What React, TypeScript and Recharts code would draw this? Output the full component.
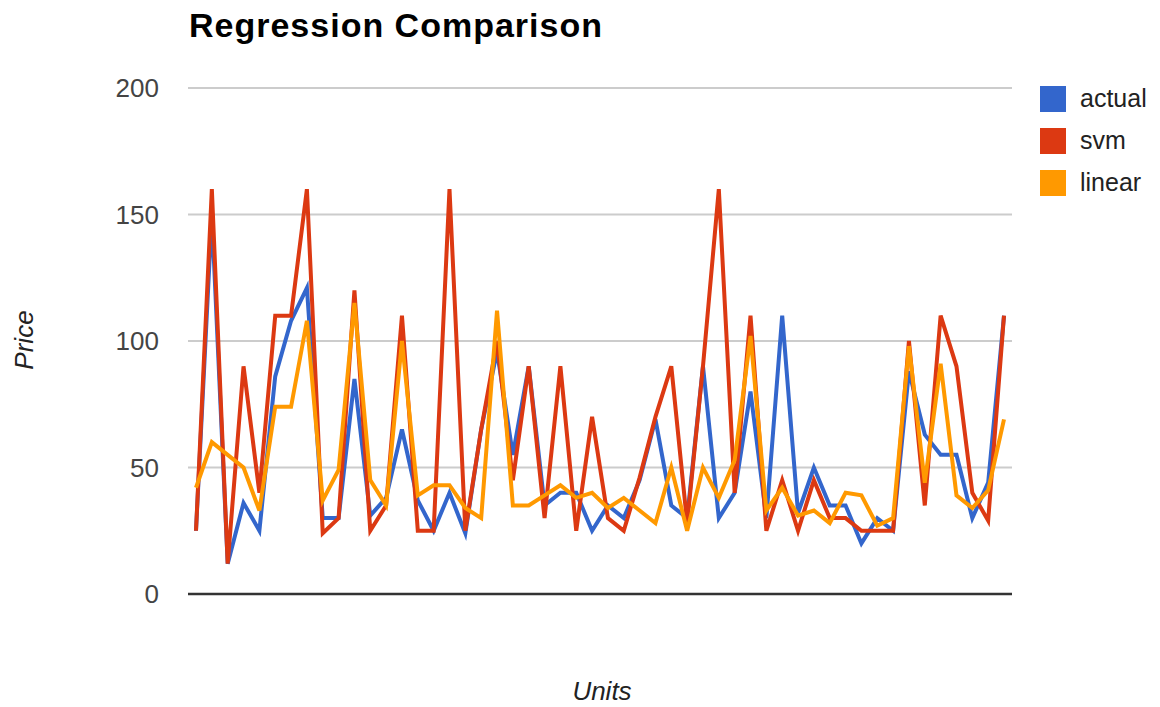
import React from 'react';
import { LineChart, Line, XAxis, YAxis, CartesianGrid, ReferenceLine } from 'recharts';

// one entry per unit, 52 in all
const units = Array.from({ length: 52 }, (_, i) => i + 1);

const actual = [
  25, 150, 12, 36, 25, 86, 108, 121, 30, 30, 85, 31, 38, 65, 37, 25, 40, 24, 65, 96,
  55, 90, 35, 40, 40, 25, 35, 30, 45, 69, 35, 30, 90, 30, 40, 80, 30, 110, 32, 50,
  35, 35, 20, 30, 25, 88, 63, 55, 55, 30, 44, 110,
];
const svm = [
  25, 160, 12, 90, 40, 110, 110, 160, 24, 30, 120, 25, 35, 110, 25, 25, 160, 25, 65, 100,
  45, 90, 30, 90, 25, 70, 30, 25, 46, 70, 90, 28, 90, 160, 40, 110, 25, 45, 25, 45,
  30, 30, 25, 25, 25, 100, 35, 110, 90, 40, 29, 110,
];
const linear = [
  42, 60, 55, 50, 33, 74, 74, 108, 37, 49, 115, 45, 35, 100, 39, 43, 43, 34, 30, 112,
  35, 35, 39, 43, 38, 40, 34, 38, 33, 28, 50, 25, 50, 38, 53, 102, 33, 42, 31, 33,
  28, 40, 39, 27, 30, 98, 44, 91, 39, 34, 41, 69,
];

const yTicks = [0, 50, 100, 150, 200];

const series = [
  { key: 'actual', color: '#3366cc' },
  { key: 'svm', color: '#dc3912' },
  { key: 'linear', color: '#ff9900' },
];

const data = units.map((u, i) => ({
  unit: u,
  actual: actual[i],
  svm: svm[i],
  linear: linear[i],
}));

const font = '"Liberation Sans", Arial, sans-serif';

export default function App() {
  return (
    <div style={{ position: 'absolute', left: 0, top: 0, width: 1160, height: 707, background: '#fff', fontFamily: font }}>
      <LineChart
        width={1160}
        height={707}
        data={data}
        margin={{ top: 88, right: 148, bottom: 113, left: 128 }}
      >
        <CartesianGrid vertical={false} stroke="#cccccc" strokeWidth={2} />
        <XAxis dataKey="unit" hide padding={{ left: 8, right: 8 }} />
        <YAxis
          width={60}
          domain={[0, 200]}
          ticks={yTicks}
          axisLine={false}
          tickLine={false}
          tickSize={0}
          tickMargin={29}
          tick={{ fill: '#444', fontSize: 26, fontFamily: font }}
        />
        <ReferenceLine y={0} stroke="#333" strokeWidth={2.5} />
        {series.map((s) => (
          <Line
            key={s.key}
            type="linear"
            dataKey={s.key}
            stroke={s.color}
            strokeWidth={4}
            dot={false}
            activeDot={false}
            isAnimationActive={false}
          />
        ))}
      </LineChart>

      <svg
        width={1160}
        height={707}
        style={{ position: 'absolute', left: 0, top: 0, pointerEvents: 'none' }}
      >
        <text x={189} y={37} fontSize={34} fontWeight="bold" letterSpacing={1} fill="#000" fontFamily={font}>
          Regression Comparison
        </text>
        <text x={602} y={700} fontSize={26} fontStyle="italic" fill="#222" textAnchor="middle" fontFamily={font}>
          Units
        </text>
        <text
          x={0}
          y={0}
          transform="translate(33,340) rotate(-90)"
          fontSize={26}
          fontStyle="italic"
          fill="#222"
          textAnchor="middle"
          fontFamily={font}
        >
          Price
        </text>
        {series.map((s, i) => (
          <g key={s.key}>
            <rect x={1040} y={86 + i * 42} width={26} height={26} fill={s.color} />
            <text x={1080} y={107 + i * 42} fontSize={25} fill="#222" fontFamily={font}>
              {s.key}
            </text>
          </g>
        ))}
      </svg>
    </div>
  );
}
